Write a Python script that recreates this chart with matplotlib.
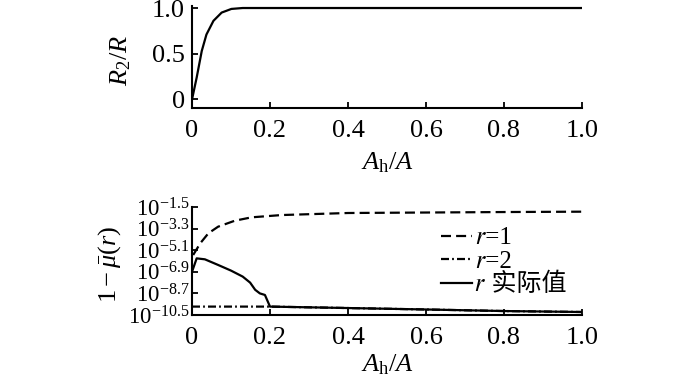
import matplotlib
matplotlib.use("Agg")
import matplotlib.pyplot as plt

plt.rcParams['font.family'] = ['Liberation Serif', 'STIXGeneral', 'Noto Sans CJK SC', 'DejaVu Sans']
plt.rcParams['mathtext.fontset'] = 'custom'
plt.rcParams['mathtext.rm'] = 'Liberation Serif'
plt.rcParams['mathtext.it'] = 'Liberation Serif:italic'
plt.rcParams['mathtext.bf'] = 'Liberation Serif:bold'

# ---- data: top panel R2/R vs Ah/A ----
x_top = [0.0, 0.012, 0.025, 0.037, 0.055, 0.076, 0.101, 0.13, 0.2, 0.4, 0.6, 0.8, 1.0]
r2_over_r = [0.0, 0.24, 0.53, 0.71, 0.86, 0.95, 0.99, 1.0, 1.0, 1.0, 1.0, 1.0, 1.0]

# ---- data: bottom panel, exponents (base 10) of 1 - mu(r) ----
x_r1 = [0.003, 0.021, 0.042, 0.067, 0.110, 0.153, 0.230, 0.4, 0.6, 0.8, 1.0]
exp_r1 = [-5.5, -4.53, -3.69, -3.14, -2.64, -2.36, -2.17, -2.0, -1.96, -1.92, -1.89]

x_act = [0.0, 0.012, 0.033, 0.067, 0.10, 0.13, 0.149, 0.162, 0.174, 0.187, 0.2, 0.4, 0.6, 0.8, 1.0]
exp_act = [-6.9, -5.78, -5.86, -6.33, -6.8, -7.3, -7.8, -8.4, -8.7, -8.83, -9.8, -9.92, -10.04, -10.17, -10.25]

x_r2 = [0.0, 0.2, 0.4, 0.6, 0.8, 1.0]
exp_r2 = [-9.8, -9.8, -9.92, -10.04, -10.17, -10.25]

legend_labels = ['\U0001D45F=1', '\U0001D45F=2', '\U0001D45F 实际值']

xticks = [0, 0.2, 0.4, 0.6, 0.8, 1.0]
xtick_labels = ['0', '0.2', '0.4', '0.6', '0.8', '1.0']
top_yticks = [0, 0.5, 1.0]
top_ytick_labels = ['0', '0.5', '1.0']
bot_ytick_exps = [-1.5, -3.3, -5.1, -6.9, -8.7, -10.5]

fig = plt.figure(figsize=(7.0, 3.76), dpi=100)
W, H = 700, 376
def rect(l, t, r, b):
    return [l / W, 1 - b / H, (r - l) / W, (b - t) / H]

ax1 = fig.add_axes(rect(192, 6, 582, 108))
ax2 = fig.add_axes(rect(192, 207, 582, 315))

for ax in (ax1, ax2):
    for s in ('top', 'right'):
        ax.spines[s].set_visible(False)
    for s in ('left', 'bottom'):
        ax.spines[s].set_linewidth(1.5)
    ax.tick_params(direction='in', length=4, width=1.3, labelsize=19, pad=5)
    ax.tick_params(axis='x', pad=8.5)
    ax.set_xlim(0, 1.0)
    ax.set_xticks(xticks)
    ax.set_xticklabels(xtick_labels)

# top panel
ax1.plot(x_top, r2_over_r, color='black', lw=1.6)
ax1.set_ylim(-0.093, 1.022)
ax1.set_yticks(top_yticks)
ax1.set_yticklabels(top_ytick_labels)
ax1.set_ylabel(r'$R_2/R$', fontsize=19)
ax1.yaxis.set_label_coords(-0.151, 0.47)
ax1.set_xlabel(r'$A_{\rm h}/A$', fontsize=19)
ax1.xaxis.set_label_coords(0.5, -0.42)

# bottom panel
ax2.set_yscale('log')
ax2.plot(x_r1, [10.0 ** e for e in exp_r1], color='black', lw=1.6,
         linestyle=(0, (4.5, 2.3)), label=legend_labels[0])
ax2.plot(x_r2, [10.0 ** e for e in exp_r2], color='black', lw=1.6,
         linestyle=(0, (3.6, 1.4, 0.8, 1.4)), label=legend_labels[1])
ax2.plot(x_act, [10.0 ** e for e in exp_act], color='black', lw=1.6,
         label=legend_labels[2])
ax2.set_ylim(10.0 ** -10.5, 10.0 ** -1.5)
ax2.set_yticks([10.0 ** e for e in bot_ytick_exps])
ax2.set_yticklabels([r'$10^{-%s}$' % str(abs(e)) for e in bot_ytick_exps])
ax2.minorticks_off()
ax2.tick_params(axis='y', labelsize=16.5, pad=2)
ax2.set_ylabel(r'$1-\bar{\mu}(r)$', fontsize=19)
ax2.yaxis.set_label_coords(-0.177, 0.47)
ax2.set_xlabel(r'$A_{\rm h}/A$', fontsize=19)
ax2.xaxis.set_label_coords(0.5, -0.345)

leg = ax2.legend(loc='upper left', bbox_to_anchor=((441 - 192) / 390, (315 - 227) / 108),
                 frameon=False,
                 prop=dict(family=['Liberation Serif', 'STIXGeneral', 'Noto Sans CJK SC'], size=18),
                 handlelength=1.25, handletextpad=0.12,
                 labelspacing=0.02, borderaxespad=0, borderpad=0)

fig.savefig('out.png', dpi=100)
